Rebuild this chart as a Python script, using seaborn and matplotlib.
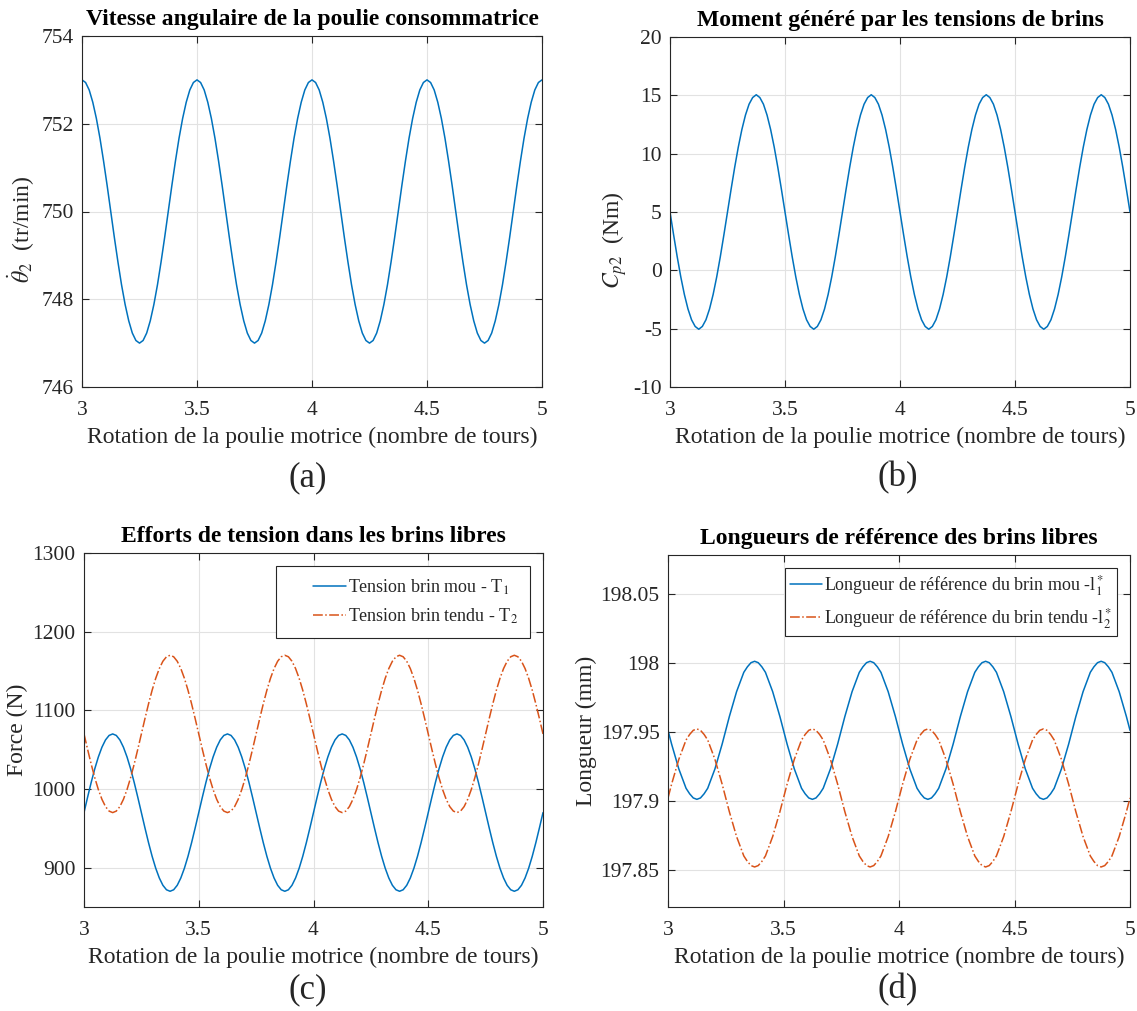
import numpy as np
import pandas as pd
import matplotlib
matplotlib.use("Agg")
import matplotlib.pyplot as plt
import seaborn as sns
from matplotlib.ticker import FuncFormatter
from matplotlib.lines import Line2D
from matplotlib.legend_handler import HandlerLine2D

# ---------------- data ----------------
turns = np.linspace(3.0, 5.0, 129)  # rotation of driving pulley (turns), step 1/64

theta_dot = [
    753.00, 752.94, 752.77, 752.49, 752.12, 751.67, 751.15, 750.59,
    750.00, 749.41, 748.85, 748.33, 747.88, 747.51, 747.23, 747.06,
    747.00, 747.06, 747.23, 747.51, 747.88, 748.33, 748.85, 749.41,
    750.00, 750.59, 751.15, 751.67, 752.12, 752.49, 752.77, 752.94,
    753.00, 752.94, 752.77, 752.49, 752.12, 751.67, 751.15, 750.59,
    750.00, 749.41, 748.85, 748.33, 747.88, 747.51, 747.23, 747.06,
    747.00, 747.06, 747.23, 747.51, 747.88, 748.33, 748.85, 749.41,
    750.00, 750.59, 751.15, 751.67, 752.12, 752.49, 752.77, 752.94,
    753.00, 752.94, 752.77, 752.49, 752.12, 751.67, 751.15, 750.59,
    750.00, 749.41, 748.85, 748.33, 747.88, 747.51, 747.23, 747.06,
    747.00, 747.06, 747.23, 747.51, 747.88, 748.33, 748.85, 749.41,
    750.00, 750.59, 751.15, 751.67, 752.12, 752.49, 752.77, 752.94,
    753.00, 752.94, 752.77, 752.49, 752.12, 751.67, 751.15, 750.59,
    750.00, 749.41, 748.85, 748.33, 747.88, 747.51, 747.23, 747.06,
    747.00, 747.06, 747.23, 747.51, 747.88, 748.33, 748.85, 749.41,
    750.00, 750.59, 751.15, 751.67, 752.12, 752.49, 752.77, 752.94,
    753.00,
]

moment = [
    5.00, 3.05, 1.17, -0.56, -2.07, -3.31, -4.24, -4.81,
    -5.05, -4.81, -4.24, -3.31, -2.07, -0.56, 1.17, 3.05,
    5.00, 6.95, 8.83, 10.56, 12.07, 13.31, 14.24, 14.81,
    15.05, 14.81, 14.24, 13.31, 12.07, 10.56, 8.83, 6.95,
    5.00, 3.05, 1.17, -0.56, -2.07, -3.31, -4.24, -4.81,
    -5.05, -4.81, -4.24, -3.31, -2.07, -0.56, 1.17, 3.05,
    5.00, 6.95, 8.83, 10.56, 12.07, 13.31, 14.24, 14.81,
    15.05, 14.81, 14.24, 13.31, 12.07, 10.56, 8.83, 6.95,
    5.00, 3.05, 1.17, -0.56, -2.07, -3.31, -4.24, -4.81,
    -5.05, -4.81, -4.24, -3.31, -2.07, -0.56, 1.17, 3.05,
    5.00, 6.95, 8.83, 10.56, 12.07, 13.31, 14.24, 14.81,
    15.05, 14.81, 14.24, 13.31, 12.07, 10.56, 8.83, 6.95,
    5.00, 3.05, 1.17, -0.56, -2.07, -3.31, -4.24, -4.81,
    -5.05, -4.81, -4.24, -3.31, -2.07, -0.56, 1.17, 3.05,
    5.00, 6.95, 8.83, 10.56, 12.07, 13.31, 14.24, 14.81,
    15.05, 14.81, 14.24, 13.31, 12.07, 10.56, 8.83, 6.95,
    5.00,
]

tension_T1 = [
    970.0, 989.5, 1008.3, 1025.6, 1040.7, 1053.1, 1062.4, 1068.1,
    1070.0, 1068.1, 1062.4, 1053.1, 1040.7, 1025.6, 1008.3, 989.5,
    970.0, 950.5, 931.7, 914.4, 899.3, 886.9, 877.6, 871.9,
    870.0, 871.9, 877.6, 886.9, 899.3, 914.4, 931.7, 950.5,
    970.0, 989.5, 1008.3, 1025.6, 1040.7, 1053.1, 1062.4, 1068.1,
    1070.0, 1068.1, 1062.4, 1053.1, 1040.7, 1025.6, 1008.3, 989.5,
    970.0, 950.5, 931.7, 914.4, 899.3, 886.9, 877.6, 871.9,
    870.0, 871.9, 877.6, 886.9, 899.3, 914.4, 931.7, 950.5,
    970.0, 989.5, 1008.3, 1025.6, 1040.7, 1053.1, 1062.4, 1068.1,
    1070.0, 1068.1, 1062.4, 1053.1, 1040.7, 1025.6, 1008.3, 989.5,
    970.0, 950.5, 931.7, 914.4, 899.3, 886.9, 877.6, 871.9,
    870.0, 871.9, 877.6, 886.9, 899.3, 914.4, 931.7, 950.5,
    970.0, 989.5, 1008.3, 1025.6, 1040.7, 1053.1, 1062.4, 1068.1,
    1070.0, 1068.1, 1062.4, 1053.1, 1040.7, 1025.6, 1008.3, 989.5,
    970.0, 950.5, 931.7, 914.4, 899.3, 886.9, 877.6, 871.9,
    870.0, 871.9, 877.6, 886.9, 899.3, 914.4, 931.7, 950.5,
    970.0,
]

tension_T2 = [
    1070.0, 1050.5, 1031.7, 1014.4, 999.3, 986.9, 977.6, 971.9,
    970.0, 971.9, 977.6, 986.9, 999.3, 1014.4, 1031.7, 1050.5,
    1070.0, 1089.5, 1108.3, 1125.6, 1140.7, 1153.1, 1162.4, 1168.1,
    1170.0, 1168.1, 1162.4, 1153.1, 1140.7, 1125.6, 1108.3, 1089.5,
    1070.0, 1050.5, 1031.7, 1014.4, 999.3, 986.9, 977.6, 971.9,
    970.0, 971.9, 977.6, 986.9, 999.3, 1014.4, 1031.7, 1050.5,
    1070.0, 1089.5, 1108.3, 1125.6, 1140.7, 1153.1, 1162.4, 1168.1,
    1170.0, 1168.1, 1162.4, 1153.1, 1140.7, 1125.6, 1108.3, 1089.5,
    1070.0, 1050.5, 1031.7, 1014.4, 999.3, 986.9, 977.6, 971.9,
    970.0, 971.9, 977.6, 986.9, 999.3, 1014.4, 1031.7, 1050.5,
    1070.0, 1089.5, 1108.3, 1125.6, 1140.7, 1153.1, 1162.4, 1168.1,
    1170.0, 1168.1, 1162.4, 1153.1, 1140.7, 1125.6, 1108.3, 1089.5,
    1070.0, 1050.5, 1031.7, 1014.4, 999.3, 986.9, 977.6, 971.9,
    970.0, 971.9, 977.6, 986.9, 999.3, 1014.4, 1031.7, 1050.5,
    1070.0, 1089.5, 1108.3, 1125.6, 1140.7, 1153.1, 1162.4, 1168.1,
    1170.0, 1168.1, 1162.4, 1153.1, 1140.7, 1125.6, 1108.3, 1089.5,
    1070.0,
]

length_l1 = [
    197.951, 197.941, 197.932, 197.923, 197.916, 197.909, 197.905, 197.902,
    197.901, 197.902, 197.905, 197.909, 197.916, 197.923, 197.932, 197.941,
    197.951, 197.961, 197.970, 197.979, 197.986, 197.993, 197.997, 198.000,
    198.001, 198.000, 197.997, 197.993, 197.986, 197.979, 197.970, 197.961,
    197.951, 197.941, 197.932, 197.923, 197.916, 197.909, 197.905, 197.902,
    197.901, 197.902, 197.905, 197.909, 197.916, 197.923, 197.932, 197.941,
    197.951, 197.961, 197.970, 197.979, 197.986, 197.993, 197.997, 198.000,
    198.001, 198.000, 197.997, 197.993, 197.986, 197.979, 197.970, 197.961,
    197.951, 197.941, 197.932, 197.923, 197.916, 197.909, 197.905, 197.902,
    197.901, 197.902, 197.905, 197.909, 197.916, 197.923, 197.932, 197.941,
    197.951, 197.961, 197.970, 197.979, 197.986, 197.993, 197.997, 198.000,
    198.001, 198.000, 197.997, 197.993, 197.986, 197.979, 197.970, 197.961,
    197.951, 197.941, 197.932, 197.923, 197.916, 197.909, 197.905, 197.902,
    197.901, 197.902, 197.905, 197.909, 197.916, 197.923, 197.932, 197.941,
    197.951, 197.961, 197.970, 197.979, 197.986, 197.993, 197.997, 198.000,
    198.001, 198.000, 197.997, 197.993, 197.986, 197.979, 197.970, 197.961,
    197.951,
]

length_l2 = [
    197.902, 197.912, 197.921, 197.930, 197.937, 197.944, 197.948, 197.951,
    197.952, 197.951, 197.948, 197.944, 197.937, 197.930, 197.921, 197.912,
    197.902, 197.892, 197.883, 197.874, 197.867, 197.860, 197.856, 197.853,
    197.852, 197.853, 197.856, 197.860, 197.867, 197.874, 197.883, 197.892,
    197.902, 197.912, 197.921, 197.930, 197.937, 197.944, 197.948, 197.951,
    197.952, 197.951, 197.948, 197.944, 197.937, 197.930, 197.921, 197.912,
    197.902, 197.892, 197.883, 197.874, 197.867, 197.860, 197.856, 197.853,
    197.852, 197.853, 197.856, 197.860, 197.867, 197.874, 197.883, 197.892,
    197.902, 197.912, 197.921, 197.930, 197.937, 197.944, 197.948, 197.951,
    197.952, 197.951, 197.948, 197.944, 197.937, 197.930, 197.921, 197.912,
    197.902, 197.892, 197.883, 197.874, 197.867, 197.860, 197.856, 197.853,
    197.852, 197.853, 197.856, 197.860, 197.867, 197.874, 197.883, 197.892,
    197.902, 197.912, 197.921, 197.930, 197.937, 197.944, 197.948, 197.951,
    197.952, 197.951, 197.948, 197.944, 197.937, 197.930, 197.921, 197.912,
    197.902, 197.892, 197.883, 197.874, 197.867, 197.860, 197.856, 197.853,
    197.852, 197.853, 197.856, 197.860, 197.867, 197.874, 197.883, 197.892,
    197.902,
]

x_ticks = [3, 3.5, 4, 4.5, 5]
xlabel = "Rotation de la poulie motrice (nombre de tours)"
titles = ["Vitesse angulaire de la poulie consommatrice",
          "Moment généré par les tensions de brins",
          "Efforts de tension dans les brins libres",
          "Longueurs de référence des brins libres"]
ylabels = [r"$\dot{\theta}_2$  (tr/min)", r"$C_{p2}$  (Nm)", "Force (N)", "Longueur (mm)"]
panel_tags = ["(a)", "(b)", "(c)", "(d)"]
legend_c = ["Tension brin mou - T$_1$", "Tension brin tendu - T$_2$"]
legend_d = [r"Longueur de référence du brin mou -l$_1^*$",
            r"Longueur de référence du brin tendu -l$_2^*$"]

# ---------------- style ----------------
sns.set_theme(style="ticks")
plt.rcParams.update({
    "font.family": ["Liberation Serif", "DejaVu Serif"],
    "mathtext.fontset": "stix",
    "axes.unicode_minus": False,
    "axes.edgecolor": "#262626",
    "axes.linewidth": 0.8,
    "axes.labelcolor": "#262626",
    "xtick.color": "#262626",
    "ytick.color": "#262626",
    "xtick.direction": "in",
    "ytick.direction": "in",
    "xtick.top": True,
    "ytick.right": True,
    "xtick.major.size": 5,
    "ytick.major.size": 5,
    "xtick.major.width": 0.8,
    "ytick.major.width": 0.8,
    "font.size": 15,
})

BLUE = "#0072BD"
ORANGE = "#D95319"
fmt = FuncFormatter(lambda v, p: f"{v:g}")

fig = plt.figure(figsize=(11.37, 10.11), dpi=100)
W, H = 1137, 1011
boxes = [(82, 36, 542, 387), (670, 37, 1130, 387),
         (84, 553, 543, 907), (668, 555, 1130, 907)]
axes = [fig.add_axes([l / W, 1 - b / H, (r - l) / W, (b - t) / H]) for (l, t, r, b) in boxes]

df = pd.DataFrame({"turns": turns, "theta_dot": theta_dot, "moment": moment,
                   "T1": tension_T1, "T2": tension_T2, "l1": length_l1, "l2": length_l2})

lw = 1.1
sns.lineplot(data=df, x="turns", y="theta_dot", ax=axes[0], color=BLUE, lw=lw)
sns.lineplot(data=df, x="turns", y="moment", ax=axes[1], color=BLUE, lw=lw)
sns.lineplot(data=df, x="turns", y="T1", ax=axes[2], color=BLUE, lw=lw, label=legend_c[0])
sns.lineplot(data=df, x="turns", y="T2", ax=axes[2], color=ORANGE, lw=lw, linestyle="-.", label=legend_c[1])
sns.lineplot(data=df, x="turns", y="l1", ax=axes[3], color=BLUE, lw=lw, label=legend_d[0])
sns.lineplot(data=df, x="turns", y="l2", ax=axes[3], color=ORANGE, lw=lw, linestyle="-.", label=legend_d[1])

ylims = [(746, 754), (-10, 20), (850, 1300), (197.823, 198.078)]
yticks = [[746, 748, 750, 752, 754], [-10, -5, 0, 5, 10, 15, 20],
          [900, 1000, 1100, 1200, 1300], [197.85, 197.9, 197.95, 198.0, 198.05]]
ylabel_y = [0.45, 0.42, 0.5, 0.5]

for i, ax in enumerate(axes):
    ax.set_xlim(3, 5)
    ax.set_ylim(*ylims[i])
    ax.set_xticks(x_ticks)
    ax.set_yticks(yticks[i])
    ax.xaxis.set_major_formatter(fmt)
    ax.yaxis.set_major_formatter(fmt)
    ax.grid(True, color="#e2e2e2", lw=0.8)
    ax.set_axisbelow(True)
    for s in ax.spines.values():
        s.set_visible(True)
        s.set_color("#262626")
        s.set_linewidth(0.8)
    ax.tick_params(axis="x", labelsize=15.5, pad=10)
    ax.tick_params(axis="y", labelsize=15.5, pad=6)
    ax.set_xlabel(xlabel, fontsize=17, labelpad=5)
    ax.set_ylabel(ylabels[i], fontsize=17, labelpad=1)
    ax.yaxis.set_label_coords(ax.yaxis.label.get_position()[0], ylabel_y[i])
    ax.set_title(titles[i], fontsize=17, fontweight="bold", color="black", pad=8)

# keep default label x placement but shift vertical centre for (a)/(b)
for i, ax in enumerate(axes):
    ax.yaxis.set_label_coords(-0.0, ylabel_y[i])
    ax.yaxis.label.set_horizontalalignment("center")

fig.canvas.draw()
# place y labels just left of the tick labels (MATLAB-like spacing)
for i, ax in enumerate(axes):
    renderer = fig.canvas.get_renderer()
    tl = [t.get_window_extent(renderer) for t in ax.get_yticklabels() if t.get_text()]
    xmin = min(b.x0 for b in tl)
    lab_h = ax.yaxis.label.get_window_extent(renderer).width
    x_pix = xmin - 4 - lab_h / 2
    x_axes = ax.transAxes.inverted().transform((x_pix, 0))[0]
    ax.yaxis.set_label_coords(x_axes, ylabel_y[i])
    ax.yaxis.label.set_verticalalignment("center")

# legend (c): MATLAB-like left margin before the line sample
leg = axes[2].legend(loc="upper right", fontsize=13, frameon=True, fancybox=False,
                     framealpha=1, edgecolor="#262626", handlelength=3.2,
                     handletextpad=0.15, borderpad=0.65, borderaxespad=0.7,
                     labelspacing=0.55,
                     handler_map={Line2D: HandlerLine2D(xpad=1.4)})
leg.get_frame().set_linewidth(0.8)

leg = axes[3].legend(loc="upper right", fontsize=13, frameon=True, fancybox=False,
                     framealpha=1, edgecolor="#262626", handlelength=1.75,
                     handletextpad=0.1, borderpad=0.3, borderaxespad=0.7,
                     labelspacing=0.45)
leg.get_frame().set_linewidth(0.8)

tag_pos = [(308, 478), (898, 478), (308, 990), (898, 990)]
for (x, y), t in zip(tag_pos, panel_tags):
    fig.text(x / W, 1 - y / H, t, ha="center", va="center", fontsize=25, color="#262626")

fig.savefig("out.png", dpi=100)
